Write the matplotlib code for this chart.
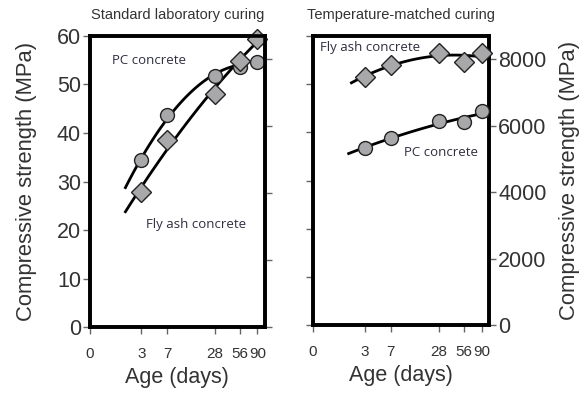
import numpy as np
import matplotlib.pyplot as plt

# ages in days, strengths
ages = [3, 7, 28, 56, 90]

# standard laboratory curing (MPa)
std_pc = [34.4, 43.7, 51.8, 53.6, 54.6]
std_fa = [27.9, 38.5, 48.0, 54.9, 59.4]

# temperature-matched curing (psi)
tm_pc = [5340, 5620, 6130, 6110, 6430]
tm_fa = [7470, 7830, 8200, 7915, 8180]

xticks = [0, 3, 7, 28, 56, 90]
mpa_ticks = [0, 10, 20, 30, 40, 50, 60]
psi_ticks = [0, 2000, 4000, 6000, 8000]
MPA_TO_PSI = 145.04

# range over which the fitted curves were drawn (days)
std_pc_span = (1.6, 58)
std_fa_span = (1.6, 104)
tm_pc_span = (1.6, 108)
tm_fa_span = (1.8, 108)

plt.rcParams['font.family'] = ['Liberation Sans', 'DejaVu Sans']

fwd = lambda x: np.log10(np.asarray(x) + 1.0)
inv = lambda y: 10 ** np.asarray(y) - 1.0

fig = plt.figure(figsize=(5.85, 3.95), dpi=100)
ax1 = fig.add_axes([0.1538, 0.172, 0.299, 0.737])
ax2 = fig.add_axes([0.535, 0.177, 0.301, 0.732])

tick_col = '#333333'
note_col = '#2e2e40'
face = '#a8a8aa'


def fit_curve(ax, y, span):
    lx = fwd(ages)
    c = np.polyfit(lx, y, 2)
    xs = np.linspace(fwd(span[0]), fwd(span[1]), 100)
    ax.plot(inv(xs), np.polyval(c, xs), color='black', lw=2, zorder=2)


def style(ax, axr):
    for a in (ax, axr):
        a.set_xscale('function', functions=(fwd, inv))
        a.set_xlim(0, 110.4)
        for s in a.spines.values():
            s.set_linewidth(2.6)
        a.tick_params(direction='out', length=5, width=1, color='#666666',
                      labelcolor=tick_col, labelsize=15.5, pad=1.5)
    ax.set_ylim(0, 60)
    axr.set_ylim(0, 60 * MPA_TO_PSI)
    ax.set_yticks(mpa_ticks)
    axr.set_yticks(psi_ticks)
    ax.set_xticks(xticks)
    ax.set_xticklabels([str(t) for t in xticks], fontsize=11)
    ax.tick_params(axis='x', pad=9)
    ax.set_xlabel('Age (days)', fontsize=15.5, color=tick_col, labelpad=5)


# left panel: standard curing
ax1r = ax1.twinx()
style(ax1, ax1r)
ax1r.set_yticklabels([])
ax1.set_ylabel('Compressive strength (MPa)', fontsize=15.8, color=tick_col, labelpad=14)
fit_curve(ax1, std_pc, std_pc_span)
fit_curve(ax1, std_fa, std_fa_span)
ax1.plot(ages, std_pc, 'o', ms=10, mfc=face, mec='#222222', mew=1, zorder=3, clip_on=False)
ax1.plot(ages, std_fa, 'D', ms=10, mfc=face, mec='#222222', mew=1, zorder=4, clip_on=False)
ax1.text(0.8, 54.9, 'PC concrete', fontsize=9.5, color=note_col, family='Open Sans', va='center')
ax1.text(3.5, 21.1, 'Fly ash concrete', fontsize=9.5, color=note_col, family='Open Sans', va='center')
ax1.set_title('Standard laboratory curing', fontsize=10.5, color=tick_col, pad=12)

# right panel: temperature-matched curing
ax2r = ax2.twinx()
style(ax2, ax2r)
ax2.set_yticklabels([])
ax2r.set_ylabel('Compressive strength (MPa)', fontsize=15.8, color=tick_col, labelpad=9,
                rotation=90)
fit_curve(ax2r, tm_pc, tm_pc_span)
fit_curve(ax2r, tm_fa, tm_fa_span)
ax2r.plot(ages, tm_pc, 'o', ms=10, mfc=face, mec='#222222', mew=1, zorder=3, clip_on=False)
ax2r.plot(ages, tm_fa, 'D', ms=10, mfc=face, mec='#222222', mew=1, zorder=4, clip_on=False)
ax2r.text(0.2, 8340, 'Fly ash concrete', fontsize=9.5, color=note_col, family='Open Sans', va='center')
ax2r.text(10.4, 5200, 'PC concrete', fontsize=9.5, color=note_col, family='Open Sans', va='center')
ax2.set_title('Temperature-matched curing', fontsize=10.5, color=tick_col, pad=12)

fig.savefig('out.png', dpi=100)
